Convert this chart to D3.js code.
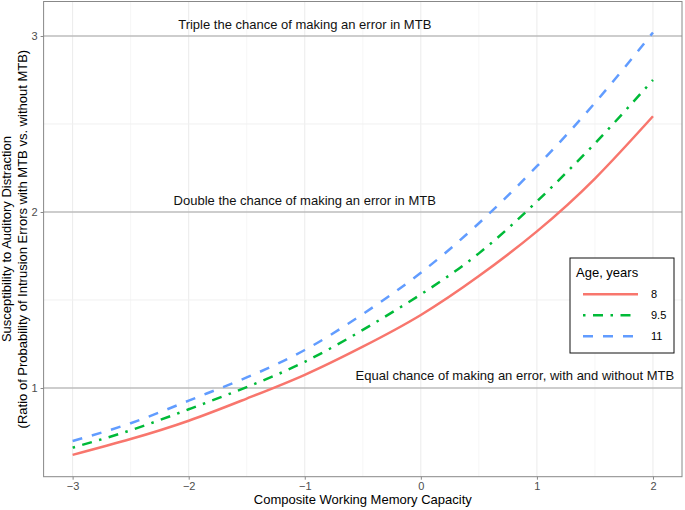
<!DOCTYPE html>
<html>
<head>
<meta charset="utf-8">
<script src="https://cdn.jsdelivr.net/npm/d3@7"></script>
<style>
body { margin: 0; background: #fff; }
svg { display: block; font-family: "Liberation Sans", Arial, sans-serif; }
</style>
</head>
<body>
<svg width="685" height="510"></svg>
<script>
// values
let capacity = [-3, -2.5, -2, -1.5, -1, -0.5, 0, 0.5, 1, 1.5, 2];
let age8   = [0.62, 0.71, 0.814, 0.94, 1.075, 1.235, 1.415, 1.636, 1.89, 2.19, 2.544];
let age95  = [0.661, 0.76, 0.879, 1.005, 1.149, 1.33, 1.532, 1.765, 2.06, 2.39, 2.75];
let age11  = [0.699, 0.80, 0.928, 1.06, 1.216, 1.42, 1.655, 1.936, 2.26, 2.62, 3.02];
let ages = ['8', '9.5', '11'];
let xTicks = [-3, -2, -1, 0, 1, 2];
let yTicks = [1, 2, 3];
let refLines = [1, 2, 3];
let notes = [
	{x: -1, y: 3.066, text: 'Triple the chance of making an error in MTB'},
	{x: -1, y: 2.068, text: 'Double the chance of making an error in MTB'},
	{x: 0.81, y: 1.074, text: 'Equal chance of making an error, with and without MTB'}
];

let colors = ['#F8766D', '#00BA38', '#619CFF'];
let dashes = [null, '2.5,7.5,10,7.5', '10,10'];

var svg = d3.select('svg');
let pLeft = 43.6, pRight = 682, pTop = 1.5, pBottom = 476.7;

var x = d3.scaleLinear().domain([-3.25, 2.25]).range([pLeft, pRight]);
var y = d3.scaleLinear().domain([0.496, 3.196]).range([pBottom, pTop]);

var series = [age8, age95, age11].map(function(vals, i) {
	return {age: ages[i], color: colors[i], dash: dashes[i],
		points: capacity.map(function(c, j) { return [c, vals[j]]; })};
});

// grid
var grid = svg.append('g');
d3.range(-3, 2.5, 0.5).forEach(function(v) {
	grid.append('line')
		.attr('x1', x(v)).attr('x2', x(v))
		.attr('y1', pTop).attr('y2', pBottom)
		.attr('stroke', Number.isInteger(v) ? '#ebebeb' : '#f4f4f4')
		.attr('stroke-width', Number.isInteger(v) ? 1 : 0.8);
});
[1.5, 2.5].forEach(function(v) {
	grid.append('line')
		.attr('x1', pLeft).attr('x2', pRight)
		.attr('y1', y(v)).attr('y2', y(v))
		.attr('stroke', '#f0f0f0');
});

// reference lines
svg.selectAll('line.ref')
	.data(refLines)
	.join('line')
	.attr('class', 'ref')
	.attr('x1', pLeft).attr('x2', pRight)
	.attr('y1', function(d) { return y(d); })
	.attr('y2', function(d) { return y(d); })
	.attr('stroke', '#bdbdbd')
	.attr('stroke-width', 1.6);

// curves
var line = d3.line()
	.x(function(d) { return x(d[0]); })
	.y(function(d) { return y(d[1]); })
	.curve(d3.curveNatural);

svg.selectAll('path.curve')
	.data(series)
	.join('path')
	.attr('class', 'curve')
	.attr('d', function(d) { return line(d.points); })
	.attr('fill', 'none')
	.attr('stroke', function(d) { return d.color; })
	.attr('stroke-width', 2.5)
	.attr('stroke-dasharray', function(d) { return d.dash; });

// notes
svg.selectAll('text.note')
	.data(notes)
	.join('text')
	.attr('class', 'note')
	.attr('x', function(d) { return x(d.x); })
	.attr('y', function(d) { return y(d.y); })
	.attr('dy', '0.35em')
	.attr('text-anchor', 'middle')
	.attr('font-size', 13)
	.attr('fill', '#111')
	.text(function(d) { return d.text; });

// panel border
svg.append('rect')
	.attr('x', pLeft).attr('y', pTop)
	.attr('width', pRight - pLeft).attr('height', pBottom - pTop)
	.attr('fill', 'none')
	.attr('stroke', '#888')
	.attr('stroke-width', 1);

// axes
var xAxis = svg.append('g')
	.attr('transform', 'translate(0,' + pBottom + ')')
	.call(d3.axisBottom(x).tickValues(xTicks).tickSize(3).tickPadding(3).tickFormat(d3.format('d')));
var yAxis = svg.append('g')
	.attr('transform', 'translate(' + pLeft + ',0)')
	.call(d3.axisLeft(y).tickValues(yTicks).tickSize(3).tickPadding(3).tickFormat(d3.format('d')));
[xAxis, yAxis].forEach(function(a) {
	a.select('.domain').remove();
	a.selectAll('line').attr('stroke', '#888');
	a.selectAll('text').attr('fill', '#4d4d4d').attr('font-size', 11)
		.style('font-family', '"Liberation Sans", Arial, sans-serif');
});

// axis titles
svg.append('text')
	.attr('x', (pLeft + pRight) / 2).attr('y', 504)
	.attr('text-anchor', 'middle')
	.attr('font-size', 13)
	.text('Composite Working Memory Capacity');

var yt = svg.append('text')
	.attr('transform', 'translate(0,' + (pTop + pBottom) / 2 + ') rotate(-90)')
	.attr('text-anchor', 'middle')
	.attr('font-size', 13);
yt.append('tspan').attr('x', 0).attr('y', 11).text('Susceptibility to Auditory Distraction');
yt.append('tspan').attr('x', 0).attr('y', 26.5).text('(Ratio of Probability of Intrusion Errors with MTB vs. without MTB)');

// legend
var legend = svg.append('g');
legend.append('rect')
	.attr('x', 570).attr('y', 258)
	.attr('width', 104).attr('height', 95)
	.attr('fill', '#fff')
	.attr('stroke', '#111')
	.attr('stroke-width', 1);
legend.append('text')
	.attr('x', 576).attr('y', 272).attr('dy', '0.35em')
	.attr('font-size', 13)
	.text('Age, years');
var items = legend.selectAll('g.item')
	.data(series)
	.join('g')
	.attr('class', 'item')
	.attr('transform', function(d, i) { return 'translate(0,' + (294.3 + i * 21) + ')'; });
items.append('line')
	.attr('x1', 583).attr('x2', 638)
	.attr('stroke', function(d) { return d.color; })
	.attr('stroke-width', 2.5)
	.attr('stroke-dasharray', function(d) { return d.dash; });
items.append('text')
	.attr('x', 651).attr('dy', '0.35em')
	.attr('font-size', 11)
	.text(function(d) { return d.age; });
</script>
</body>
</html>
